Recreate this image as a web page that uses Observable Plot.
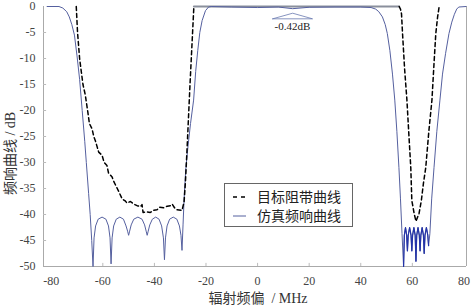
<!DOCTYPE html>
<html><head><meta charset="utf-8">
<script src="https://cdn.jsdelivr.net/npm/d3@7"></script>
<script src="https://cdn.jsdelivr.net/npm/@observablehq/plot@0.6"></script>
<style>
body{margin:0;background:#fff;}
#wrap{position:relative;width:472px;height:306px;}
#legend{position:absolute;left:224px;top:183px;width:127px;height:42px;border:1px solid #666;background:#fff;
  font-family:'Noto Sans CJK SC','Liberation Serif',serif;font-size:14px;color:#222;}
#legend .row{position:absolute;left:0;height:20px;line-height:20px;}
#legend svg{position:absolute;left:0;top:0;}
#legend span{position:absolute;left:32px;white-space:nowrap;}
</style></head>
<body><div id="wrap"></div>
<script>
// ---- data ----
const xTicks = [-80, -60, -40, -20, 0, 20, 40, 60, 80];
const yTicks = [0, -5, -10, -15, -20, -25, -30, -35, -40, -45, -50];

// simulated frequency response (仿真频响曲线)
const simX = [-81.6,-77,-75.5,-74,-73,-72,-71,-70,-69,-68,-67,-66.4,-65.5,-64.9,-64.3,-63.8,
  -63.4,-62.8,-61.8,-60.3,-58.8,-57.8,-57.2,-56.8,
  -56.4,-55.8,-54.8,-53.4,-52,-51,-50.4,-50,
  -49.6,-49,-48,-46.4,-44.8,-43.8,-43.2,-42.8,
  -42.4,-41.8,-40.8,-39.5,-38.2,-37.2,-36.5,-36.1,
  -35.7,-35.1,-34.1,-32.7,-31.3,-30.3,-29.7,-29.3,
  -28.9,-28.4,-27.8,-27,-26,-24.8,-24,-23.2,-22.4,-21.5,-20.2,-19,-18,
  -10,0,8,13.6,20,30,40,44,
  45.8,47,48.4,49.5,50.3,51.3,52.3,53.2,54,54.8,55.4,56,56.6,
  56.9,57.35,57.8,58.1, 58.4,58.95,59.5,59.8, 60.1,60.6,61.1,61.4,
  61.7,62.2,62.7,63.0, 63.3,63.8,64.3,64.6, 64.9,65.45,66.0,66.3,
  66.8,67.5,68.4,69.5,70.7,71.7,72.9,74.2,75.3,76.3,77.2,78,80.8];
const simY = [0,0,-0.3,-1,-2,-3.5,-5.5,-9.5,-14,-20,-26,-30,-36,-40,-45,-50,
  -44.5,-42.2,-40.9,-40.5,-40.9,-42.2,-44.5,-49.5,
  -44.5,-42.2,-40.9,-40.5,-40.9,-42.2,-43.2,-44,
  -43.2,-42,-40.9,-40.5,-40.9,-42,-43.2,-44,
  -43.2,-42,-40.9,-40.5,-40.9,-42.2,-44.5,-48.7,
  -44.5,-42.2,-40.9,-40.5,-40.9,-42.2,-44,-46.9,
  -42,-36,-31,-27,-22.5,-18,-12.5,-8.5,-5,-2.7,-0.8,-0.1,0,
  -0.1,-0.2,-0.1,-0.42,-0.15,-0.1,-0.1,-0.2,
  -0.5,-1,-2,-3.5,-5.2,-8.5,-13,-18,-24,-31,-37,-43.7,-50,
  -44,-42.5,-44,-47, -44,-42.5,-44,-47, -44,-42.5,-44,-49,
  -44,-42.5,-44,-47, -44,-42.5,-44,-47.5, -44,-42.5,-44,-46,
  -43.7,-37,-31,-24,-18,-13,-9,-5.2,-3,-1.5,-0.5,-0.1,0];
const rippleBand = [56.6, 66.3]; // right stopband ripple region

// target stopband curve (目标阻带曲线), left and right stopbands
const tgtLX = [-70.3,-69.8,-69,-67.7,-66.8,-65.9,-65.2,-64.2,-63.5,-62.9,-61.6,-60.3,-59.5,-58.4,-57.8,-56.4,
  -55.9,-54.4,-53.9,-52.5,-51.3,-50.6,-49.3,-48,-46.7,-45.4,-44.8,
  -44.4,-43,-41.6,-40.3,-39,-38,-36.4,-35,-33.8,-33.1,-32.2,-31.2,-29.3,-28.5,-28,-27.4,-26.2,-25.2,-24.7];
const tgtLY = [0,-5,-10,-15,-17,-20,-22.5,-23.5,-25,-25.8,-28,-28.6,-30,-30.6,-32,-32.8,
  -33.5,-35,-35.5,-37,-37.4,-37.8,-37.5,-38,-38.3,-38.5,-38.1,
  -39.6,-39.5,-39.6,-39.2,-39.1,-38.6,-38.7,-38.4,-38.3,-38.0,-38.7,-39.1,-39.2,-37.6,-34,-28,-15,-5,0];
const tgtRX = [54.9,55.4,55.8,56.2,57,57.9,58.7,59.4,59.8,60.7,61.4,62.6,63.5,64.3,65.2,66.4,67.6,68.4,69.1,69.8,70.4];
const tgtRY = [0,-0.5,-1.4,-5.2,-12,-18,-25,-31,-37.3,-39.8,-41.3,-39.8,-37.3,-34,-31,-24,-18,-11,-5.2,-2,0];
// passband of the target (0 dB between the two stopbands)
const tgtPassX = [-24.7, 54.9];
const tgtPassY = [0, 0];

// annotation
const annoText = ["-0.42dB"];
const annoPos = {x: 13.5, y: -3.85};
const caretX = [5.85, 13.6, 21.3, 5.85];
const caretY = [-2.37, -1.29, -2.37, -2.37];

const legendLabels = ["目标阻带曲线", "仿真频响曲线"];
const xLabel = "辐射频偏  / MHz";
const yLabel = "频响曲线 / dB";

// ---- chart ----
const serif = "'Liberation Serif','Noto Sans CJK SC',serif";
const inRipple = simX.map(x => x >= rippleBand[0] && x <= rippleBand[1]);
const chart = Plot.plot({
  width: 472, height: 306,
  marginLeft: 43, marginRight: 6, marginTop: 6, marginBottom: 40,
  style: {fontFamily: serif, fontSize: "12px", color: "#444", background: "#fff"},
  x: {domain: [-83, 81]},
  y: {domain: [-50, 0]},
  marks: [
    Plot.ruleY([-50], {stroke: "#aaa"}),
    Plot.ruleX([-83, 81], {stroke: "#aaa"}),
    Plot.ruleX(xTicks.slice(1, -1), {x: d => d, y1: -50, y2: -49.4, stroke: "#bbb"}),
    Plot.ruleY(yTicks.slice(1, -1), {y: d => d, x1: -83, x2: -81.8, stroke: "#bbb"}),
    Plot.axisX(xTicks, {tickSize: 0, tickPadding: 10, label: null, tickFormat: d => String(d), fontSize: 12}),
    Plot.axisY(yTicks, {tickSize: 0, tickPadding: 8, label: null, tickFormat: d => String(d), fontSize: 12}),
    Plot.line(tgtPassX, {x: tgtPassX, y: tgtPassY, stroke: "#8a8f9c", strokeWidth: 2}),
    Plot.line(simX, {x: simX, y: simY, stroke: "#55609f", strokeWidth: 1}),
    Plot.line(simX, {x: simX, y: simY, filter: inRipple, stroke: "#2333a8", strokeWidth: 1.2}),
    Plot.line(tgtLX, {x: tgtLX, y: tgtLY, stroke: "#000", strokeWidth: 1.5, strokeDasharray: "4,3"}),
    Plot.line(tgtRX, {x: tgtRX, y: tgtRY, stroke: "#000", strokeWidth: 1.5, strokeDasharray: "4,3"}),
    Plot.line(caretX, {x: caretX, y: caretY, stroke: "#6a7ab0", strokeWidth: 0.8}),
    Plot.text(annoText, {x: annoPos.x, y: annoPos.y, text: d => d, fontSize: 11, fill: "#222"}),
    Plot.text([xLabel], {frameAnchor: "middle", dx: 3, dy: 162, text: d => d, fontSize: 14, fill: "#333"}),
    Plot.text([yLabel], {frameAnchor: "middle", dx: -244, dy: 17, rotate: -90, text: d => d, fontSize: 14, fill: "#333"})
  ]
});
const wrap = document.getElementById("wrap");
wrap.appendChild(chart);

// legend overlay
const lg = document.createElement("div");
lg.id = "legend";
lg.innerHTML = `
  <div class="row" style="top:2px;width:127px;">
    <svg width="30" height="20"><line x1="8" y1="11" x2="21" y2="11" stroke="#000" stroke-width="1.5" stroke-dasharray="4,4"/></svg>
    <span>${legendLabels[0]}</span></div>
  <div class="row" style="top:21px;width:127px;">
    <svg width="30" height="20"><line x1="8" y1="11" x2="21" y2="11" stroke="#55609f" stroke-width="1"/></svg>
    <span>${legendLabels[1]}</span></div>`;
wrap.appendChild(lg);
</script>
</body></html>
